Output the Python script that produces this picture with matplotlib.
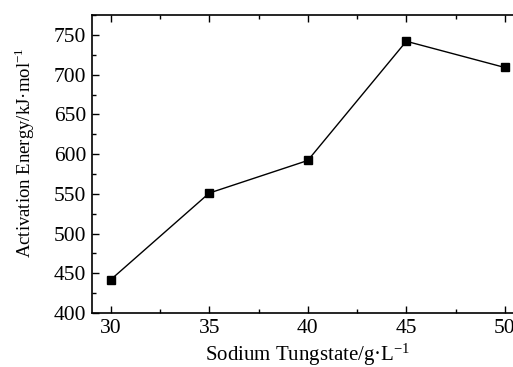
import matplotlib
matplotlib.use("Agg")
import matplotlib.pyplot as plt
from matplotlib.ticker import MultipleLocator

# datos
concentracion = [30, 35, 40, 45, 50]
energia = [442, 551, 592, 742, 709]

plt.rcParams['font.family'] = ['Liberation Serif', 'DejaVu Serif']
plt.rcParams['mathtext.fontset'] = 'stix'

fig = plt.figure(figsize=(5.13, 3.67), dpi=100)
ax = fig.add_axes([0.179, 0.147, 0.8435, 0.812])

ax.plot(concentracion, energia, color='black', lw=1.0, marker='s', markersize=5.5)

ax.set_xlim(29.04, 51.0)
ax.set_ylim(400, 775)
ax.xaxis.set_major_locator(MultipleLocator(5))
ax.xaxis.set_minor_locator(MultipleLocator(2.5))
ax.yaxis.set_major_locator(MultipleLocator(50))
ax.yaxis.set_minor_locator(MultipleLocator(25))
ax.tick_params(which='both', direction='in', top=True, right=True, labelsize=15.5, width=1.0)
ax.tick_params(which='major', length=5, pad=4)
ax.tick_params(which='minor', length=3)
for s in ax.spines.values():
    s.set_linewidth(1.2)

# etiquetas con superindice pequeño
ax.set_xlabel('Sodium Tungstate/g·L$^{\\mathregular{-1}}$', fontsize=15, labelpad=3)
ax.set_ylabel('Activation Energy/kJ·mol$^{\\mathregular{-1}}$', fontsize=13.5)
ax.yaxis.set_label_coords(-0.127, 0.54)

fig.savefig('out.png', dpi=100)
